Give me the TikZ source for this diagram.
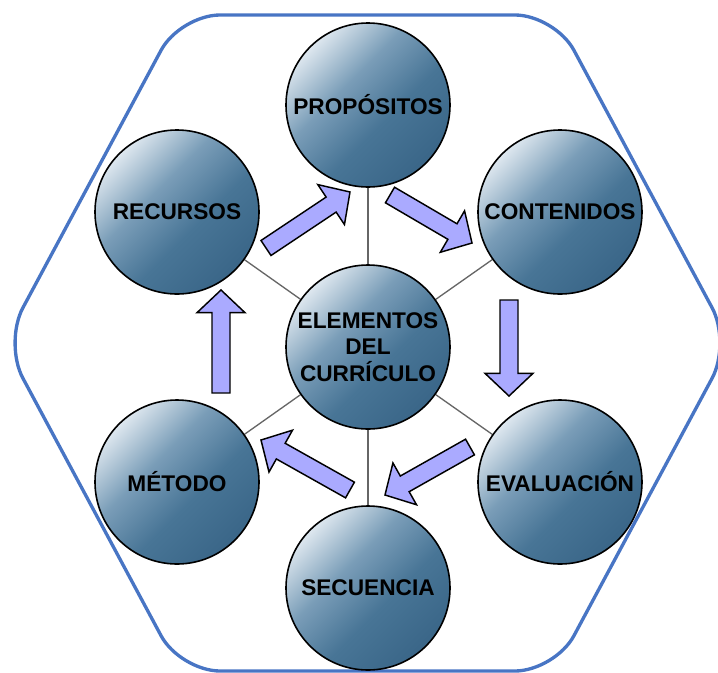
\documentclass[tikz,border=0pt]{standalone}
\usepackage{fontspec}
\setmainfont{Liberation Sans}
\usepackage{xcolor}
\usepackage{tikz}
\usetikzlibrary{calc, backgrounds}

\definecolor{hexblue}{RGB}{72,117,196}
\definecolor{arrowfill}{RGB}{170,170,255}
\definecolor{orblight}{RGB}{222,231,239}
\definecolor{orbmid}{RGB}{122,157,184}
\definecolor{orbdeep}{RGB}{72,117,150}
\definecolor{orbdark}{RGB}{58,102,136}

\pgfdeclareverticalshading{orbshade}{100bp}{color(0bp)=(orbdark); color(25bp)=(orbdark); color(43bp)=(orbdeep); color(59bp)=(orbmid); color(75bp)=(orblight); color(100bp)=(orblight)}

\newcommand{\labelfont}{\fontsize{17}{20}\selectfont\bfseries}

% block arrow from #1 to #2
\newcommand{\blockarrow}[2]{%
  \coordinate (neck) at ($(#2)!17pt!(#1)$);
  \draw[flow] ($(#1)!6.75pt!90:(#2)$) -- ($(neck)!6.75pt!90:(#2)$) -- ($(neck)!18pt!90:(#2)$)
    -- (#2) -- ($(neck)!18pt!-90:(#2)$) -- ($(neck)!6.75pt!-90:(#2)$) -- ($(#1)!6.75pt!-90:(#2)$) -- cycle;
}

\begin{document}
\begin{tikzpicture}[
    x=0.75pt, y=-0.75pt,
    orb/.style={circle, draw=black, line width=1.2pt, shading=orbshade, shading angle=45, minimum size=123pt, inner sep=0pt, align=center, font=\labelfont, text=black},
    spoke/.style={draw=black!60, line width=1pt},
    hexline/.style={draw=hexblue, line width=2.5pt, rounded corners=30pt},
    flow/.style={draw=black, fill=arrowfill, line width=1.1pt, line join=miter}
]
\useasboundingbox (0,0) rectangle (718,672);

\node[orb] (pro) at (368,105) {PROPÓSITOS};
\node[orb] (rec) at (177,212) {RECURSOS};
\node[orb] (con) at (560,212) {CONTENIDOS};
\node[orb] (ele) at (368,347) {ELEMENTOS\\DEL\\CURRÍCULO};
\node[orb] (met) at (177,482) {MÉTODO};
\node[orb] (eva) at (560,482) {EVALUACIÓN};
\node[orb] (sec) at (368,588) {SECUENCIA};

\begin{scope}[on background layer]
\draw[hexline] (180,15) -- (555,15) -- (731,343) -- (555,671) -- (180,671) -- (4,343) -- cycle;
\foreach \n in {pro, rec, con, met, eva, sec}
    \draw[spoke] (ele) -- (\n);
\end{scope}

% arrow ends
\coordinate (a1s) at (266,248);
\coordinate (a1e) at (350,192);
\coordinate (a2s) at (390,195);
\coordinate (a2e) at (472,243);
\coordinate (a3s) at (509,300);
\coordinate (a3e) at (509,396);
\coordinate (a4s) at (470,447);
\coordinate (a4e) at (385,495);
\coordinate (a5s) at (350,490);
\coordinate (a5e) at (261,440);
\coordinate (a6s) at (221,393);
\coordinate (a6e) at (221,290);

\blockarrow{a1s}{a1e}
\blockarrow{a2s}{a2e}
\blockarrow{a3s}{a3e}
\blockarrow{a4s}{a4e}
\blockarrow{a5s}{a5e}
\blockarrow{a6s}{a6e}
\end{tikzpicture}
\end{document}
